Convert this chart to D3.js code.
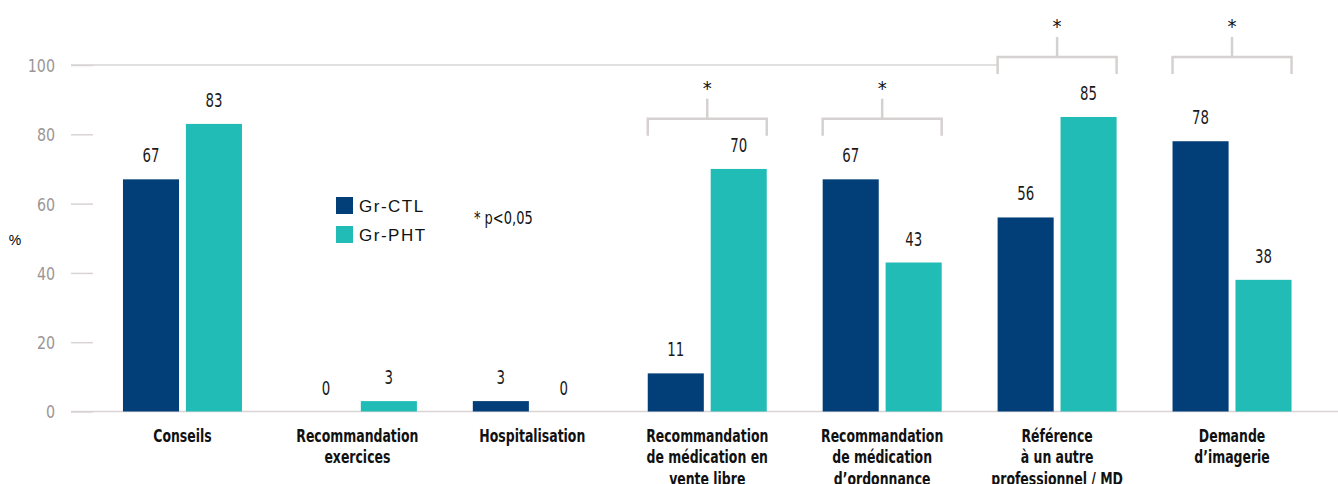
<!DOCTYPE html>
<html>
<head>
<meta charset="utf-8">
<script src="https://cdn.jsdelivr.net/npm/d3@7"></script>
<style>
  body { margin: 0; background: #fff; }
  svg { display: block; }
  .cond { font-family: "DejaVu Sans Condensed", "DejaVu Sans", sans-serif; }
</style>
</head>
<body>
<svg id="chart" width="1338" height="484"></svg>
<script>
// data
const categories = [
  ['Conseils'],
  ['Recommandation', 'exercices'],
  ['Hospitalisation'],
  ['Recommandation', 'de médication en', 'vente libre'],
  ['Recommandation', 'de médication', 'd\u2019ordonnance'],
  ['Référence', 'à un autre', 'professionnel / MD'],
  ['Demande', 'd\u2019imagerie']
]
const series = ['Gr-CTL', 'Gr-PHT']
const ctl_values = [67, 0, 3, 11, 67, 56, 78]
const pht_values = [83, 3, 0, 70, 43, 85, 38]
const y_ticks = [0, 20, 40, 60, 80, 100]
// significance brackets: category index and bracket level (in %)
const sig_index = [3, 4, 5, 6]
const sig_level = [84.5, 84.5, 102.3, 102.3]

const colors = { 'Gr-CTL': '#023f78', 'Gr-PHT': '#22bcb6' }
const svg = d3.select('#chart')

const y = d3.scaleLinear().domain([0, 100]).range([411.5, 65])
const x0 = d3.scaleBand().domain(d3.range(categories.length)).range([95, 1319.5])
const x1 = d3.scaleBand().domain(series).range([0, 119]).paddingInner(13 / 119)
const groupOffset = (x0.bandwidth() - 119) / 2

// y axis: short ticks, labels in grey
const yAxis = svg.append('g').attr('transform', 'translate(93,0)')
  .call(d3.axisLeft(y).tickValues(y_ticks).tickSize(22))
yAxis.select('.domain').remove()
yAxis.selectAll('line').attr('stroke', '#d9d4d4').attr('stroke-width', 1.5)
yAxis.selectAll('text').attr('class', 'cond').attr('fill', '#9b9696')
  .attr('x', 0).attr('dy', '0.36em')
  .attr('transform', 'translate(-38,0) scale(0.88,1)')
  .style('font-size', '18px')

// top line at 100 and baseline
svg.append('line').attr('x1', 71).attr('x2', 998).attr('y1', y(100)).attr('y2', y(100))
  .attr('stroke', '#d9d4d4').attr('stroke-width', 1.5)
svg.append('line').attr('x1', 71).attr('x2', 1338).attr('y1', y(0)).attr('y2', y(0))
  .attr('stroke', '#d9d4d4').attr('stroke-width', 1.5)

svg.append('text').attr('x', 15).attr('y', 245).attr('text-anchor', 'middle')
  .style('font-family', 'Liberation Sans, Arial, sans-serif').style('font-size', '14px').text('%')

const rows = categories.map((c, i) => ({ i, values: [ctl_values[i], pht_values[i]] }))

const groups = svg.append('g').selectAll('g').data(rows).join('g')
  .attr('transform', d => `translate(${x0(d.i) + groupOffset},0)`)

groups.selectAll('rect').data(d => series.map((s, k) => ({ s, v: d.values[k] })))
  .join('rect')
  .attr('x', d => x1(d.s))
  .attr('width', x1.bandwidth())
  .attr('y', d => y(d.v))
  .attr('height', d => y(0) - y(d.v))
  .attr('fill', d => colors[d.s])

groups.selectAll('text.val').data(d => series.map((s, k) => ({ s, v: d.values[k] })))
  .join('text')
  .attr('class', 'val cond')
  .attr('transform', d => `translate(${x1(d.s) + x1.bandwidth() / 2},${y(d.v) - 17}) scale(0.78,1)`)
  .attr('text-anchor', 'middle')
  .style('font-size', '19px')
  .attr('fill', '#1a1a1a')
  .text(d => d.v)

// category labels
const labels = svg.append('g').selectAll('text').data(categories).join('text')
  .attr('class', 'cond')
  .attr('transform', (d, i) => `translate(${x0(i) + x0.bandwidth() / 2},442) scale(0.77,1)`)
  .attr('text-anchor', 'middle')
  .style('font-size', '18px')
  .style('font-weight', 'bold')
  .attr('fill', '#111')
labels.selectAll('tspan').data(d => d).join('tspan')
  .attr('x', 0)
  .attr('dy', (d, k) => k === 0 ? 0 : 21.5)
  .text(d => d)

// significance brackets
sig_index.forEach((ci, k) => {
  const left = x0(ci) + groupOffset
  const right = left + 119
  const mid = (left + right) / 2
  const by = y(sig_level[k])
  const g = svg.append('g').attr('stroke', '#d6d1d1').attr('stroke-width', 2.5).attr('fill', 'none')
  g.append('path').attr('d', `M${left},${by + 17}V${by}H${right}V${by + 17}`)
  g.append('line').attr('x1', mid).attr('x2', mid).attr('y1', by).attr('y2', by - 20)
  svg.append('text').attr('x', mid).attr('y', by - 24).attr('text-anchor', 'middle')
    .attr('class', 'cond').style('font-size', '20px').attr('fill', '#111')
    .text('*')
})

// legend
const legend = svg.append('g').attr('transform', 'translate(336,197)')
series.forEach((s, k) => {
  legend.append('rect').attr('x', 0).attr('y', k * 29).attr('width', 17).attr('height', 17)
    .attr('fill', colors[s])
  legend.append('text').attr('x', 23).attr('y', k * 29 + 15)
    .style('font-family', 'Liberation Sans, Arial, sans-serif').style('font-size', '17px')
    .style('letter-spacing', '1.5px')
    .attr('fill', '#111').text(s)
})
svg.append('text').attr('class', 'cond')
  .attr('transform', 'translate(474,224) scale(0.85,1)')
  .style('font-size', '17px').attr('fill', '#111').text('* p<0,05')
</script>
</body>
</html>
